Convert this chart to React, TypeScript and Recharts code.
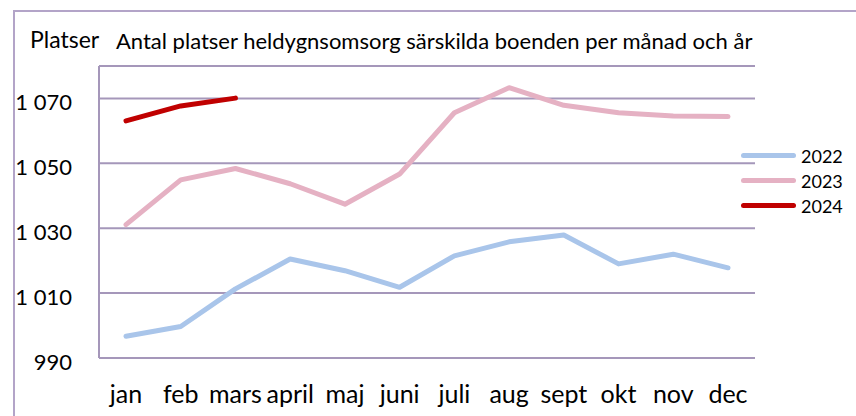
import { LineChart, Line, XAxis, YAxis, CartesianGrid } from 'recharts'

// Månader och antal platser per år
const months = ['jan', 'feb', 'mars', 'april', 'maj', 'juni', 'juli', 'aug', 'sept', 'okt', 'nov', 'dec']
const platser2022 = [996.7, 999.7, 1011.3, 1020.5, 1016.9, 1011.8, 1021.5, 1025.8, 1027.9, 1019, 1022, 1017.8]
const platser2023 = [1031.1, 1044.9, 1048.4, 1043.7, 1037.4, 1046.7, 1065.6, 1073.3, 1067.9, 1065.6, 1064.6, 1064.4]
const platser2024 = [1063.1, 1067.7, 1070.1]
const yTicks = [990, 1010, 1030, 1050, 1070]

const series = [
    { key: '2022', color: '#a9c5ea' },
    { key: '2023', color: '#e5b1c3' },
    { key: '2024', color: '#c00000' },
]

const data = months.map((m, i) => ({
    month: m,
    '2022': platser2022[i],
    '2023': platser2023[i],
    '2024': i < platser2024.length ? platser2024[i] : null,
}))

const FONT = 'Lato, "Open Sans", sans-serif'
const GRID = '#a597ba'

function formatThousands(v: number): string {
    if (v < 1000) return String(v)
    return `${Math.floor(v / 1000)} ${String(v % 1000).padStart(3, '0')}`
}

export default function App() {
    return (
        <div style={{ position: 'relative', width: 856, height: 416, overflow: 'hidden', background: '#fff' }}>
            <style>{'body{margin:0}'}</style>
            <div
                style={{
                    position: 'absolute',
                    left: 13,
                    top: 10,
                    width: 900,
                    height: 500,
                    border: '2px solid #b3a4c8',
                    boxSizing: 'border-box',
                }}
            />
            <div style={{ position: 'absolute', left: 30, top: 25, fontFamily: FONT, fontSize: 23, color: '#000' }}>
                Platser
            </div>
            <div style={{ position: 'absolute', left: 116, top: 27, fontFamily: FONT, fontSize: 22, color: '#000' }}>
                Antal platser heldygnsomsorg särskilda boenden per månad och år
            </div>
            <div style={{ position: 'absolute', left: 0, top: 0 }}>
                <LineChart width={856} height={416} data={data} margin={{ top: 66, right: 101, left: 12, bottom: 18 }}>
                    <CartesianGrid vertical={false} stroke={GRID} strokeWidth={2} />
                    <XAxis
                        dataKey="month"
                        height={40}
                        padding={{ left: 27, right: 27 }}
                        axisLine={{ stroke: GRID, strokeWidth: 2 }}
                        tickLine={false}
                        tickSize={0}
                        tickMargin={27}
                        interval={0}
                        tick={{ fontFamily: FONT, fontSize: 25, fill: '#000' }}
                    />
                    <YAxis
                        width={87}
                        domain={[990, 1080]}
                        ticks={yTicks}
                        tickFormatter={formatThousands}
                        axisLine={{ stroke: GRID, strokeWidth: 2 }}
                        tickLine={false}
                        tickSize={0}
                        tickMargin={27}
                        tick={{ fontFamily: FONT, fontSize: 22, fill: '#000', dy: 4 }}
                    />
                    {series.map((s) => (
                        <Line
                            key={s.key}
                            dataKey={s.key}
                            stroke={s.color}
                            strokeWidth={5}
                            strokeLinecap="round"
                            strokeLinejoin="round"
                            dot={false}
                            activeDot={false}
                            isAnimationActive={false}
                        />
                    ))}
                </LineChart>
            </div>
            <div style={{ position: 'absolute', left: 741, top: 143, fontFamily: FONT, fontSize: 18, color: '#000' }}>
                {series.map((s) => (
                    <div key={s.key} style={{ display: 'flex', alignItems: 'center', height: 25 }}>
                        <div style={{ width: 55, height: 5, borderRadius: 3, background: s.color, marginRight: 5 }} />
                        <span>{s.key}</span>
                    </div>
                ))}
            </div>
        </div>
    )
}
